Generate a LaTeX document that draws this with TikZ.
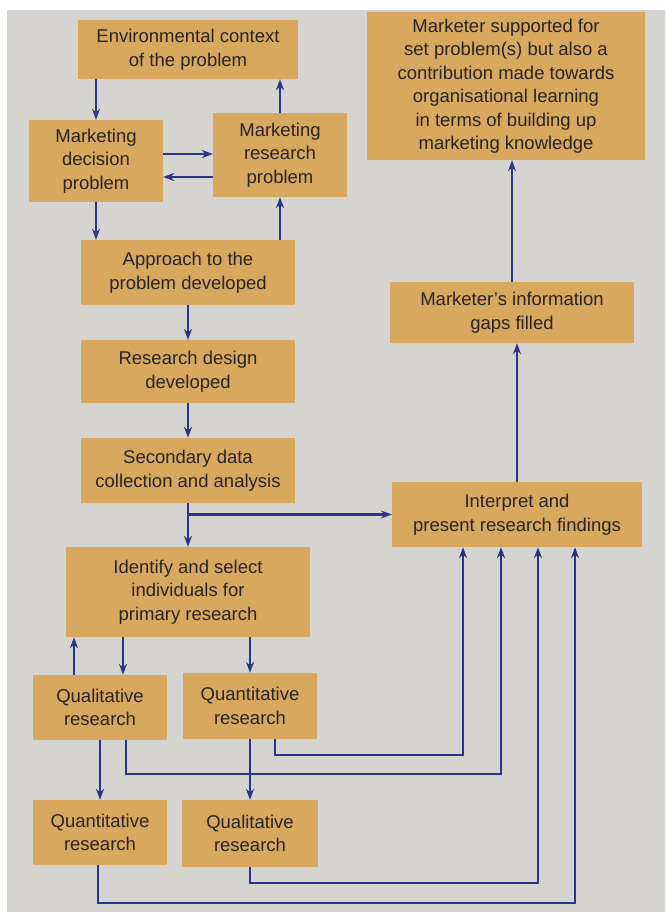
\documentclass[tikz,border=0pt]{standalone}
\usepackage{fontspec}
\setmainfont{Liberation Sans}
\usetikzlibrary{arrows.meta,calc}
\definecolor{boxfill}{HTML}{D8A85E}
\definecolor{pagebg}{HTML}{D6D4D0}
\definecolor{arrowblue}{HTML}{2B3585}
\definecolor{txt}{HTML}{2A2420}
\tikzset{
  box/.style={rectangle, fill=boxfill, draw=none, align=center, text=txt,
    inner sep=0pt, font=\fontsize{18.5}{23.5}\selectfont},
  arr/.style={draw=arrowblue, line width=2.2pt, -{Stealth[length=11pt,width=8pt]}},
}
\begin{document}
\begin{tikzpicture}[x=1pt,y=-1pt]
\fill[white] (0,0) rectangle (665,912);
\fill[pagebg] (7,10) rectangle (665,912);
\useasboundingbox (0,0) rectangle (665,912);

\node[box, minimum width=220, minimum height=59] (env) at (188,49.5) {Environmental context\\of the problem};
\node[box, minimum width=134, minimum height=82] (mdp) at (96,161) {Marketing\\decision\\problem};
\node[box, minimum width=134, minimum height=84] (mrp) at (280,155) {Marketing\\research\\problem};
\node[box, minimum width=214, minimum height=65] (appr) at (188,272.5) {Approach to the\\problem developed};
\node[box, minimum width=214, minimum height=63] (rd) at (188,371.5) {Research design\\developed};
\node[box, minimum width=214, minimum height=65] (sec) at (188,470.5) {Secondary data\\collection and analysis};
\node[box, minimum width=244, minimum height=90] (ident) at (188,592) {Identify and select\\individuals for\\primary research};
\node[box, minimum width=134, minimum height=65] (qual1) at (100,707.5) {Qualitative\\research};
\node[box, minimum width=134, minimum height=66] (quant1) at (250,706) {Quantitative\\research};
\node[box, minimum width=134, minimum height=65] (quant2) at (100,832.5) {Quantitative\\research};
\node[box, minimum width=136, minimum height=67] (qual2) at (250,833.5) {Qualitative\\research};
\node[box, minimum width=278, minimum height=148] (msup) at (506,86) {Marketer supported for\\set problem(s) but also a\\contribution made towards\\organisational learning\\in terms of building up\\marketing knowledge};
\node[box, minimum width=244, minimum height=61] (gaps) at (512,312.5) {Marketer's information\\gaps filled};
\node[box, minimum width=250, minimum height=65] (interp) at (517,514.5) {Interpret and\\present research findings};

% left column
\draw[arr] (env.south -| mdp.north) -- (mdp.north);
\draw[arr] (mrp.north) -- (mrp.north |- env.south);
\draw[arr] ([yshift=7pt]mdp.east) -- ([yshift=7pt]mdp.east -| mrp.west);
\draw[arr] ([yshift=-16pt]mdp.east -| mrp.west) -- ([yshift=-16pt]mdp.east);
\draw[arr] (mdp.south) -- (mdp.south |- appr.north);
\draw[arr] (appr.north -| mrp.south) -- (mrp.south);
\draw[arr] (appr.south) -- (rd.north);
\draw[arr] (rd.south) -- (sec.north);
\draw[arr] (sec.south) -- (ident.north);
\draw[arr] (sec.south |- interp.west) -- (interp.west);
\draw[arr] ([xshift=-26pt]qual1.north) -- ([xshift=-26pt]qual1.north |- ident.south);
\draw[arr] ([xshift=23pt]qual1.north |- ident.south) -- ([xshift=23pt]qual1.north);
\draw[arr] (quant1.north |- ident.south) -- (quant1.north);
\draw[arr] (qual1.south) -- (qual1.south |- quant2.north);
\draw[arr] (quant1.south) -- (quant1.south |- qual2.north);

% feedback lines into interpretation
\coordinate (t1) at ([xshift=-54pt]interp.south);
\coordinate (t2) at ([xshift=-16pt]interp.south);
\coordinate (t3) at ([xshift=21pt]interp.south);
\coordinate (t4) at ([xshift=58pt]interp.south);
\draw[arr] ([xshift=25pt]quant1.south) -- ++(0,16) -| (t1);
\draw[arr] ([xshift=26pt]qual1.south) -- ++(0,34) -| (t2);
\draw[arr] (qual2.south) -- ++(0,16) -| (t3);
\draw[arr] ([xshift=-2pt]quant2.south) -- ++(0,38) -| (t4);

% right column
\draw[arr] (interp.north) -- (interp.north |- gaps.south);
\draw[arr] (gaps.north) -- (gaps.north |- msup.south);
\end{tikzpicture}
\end{document}
